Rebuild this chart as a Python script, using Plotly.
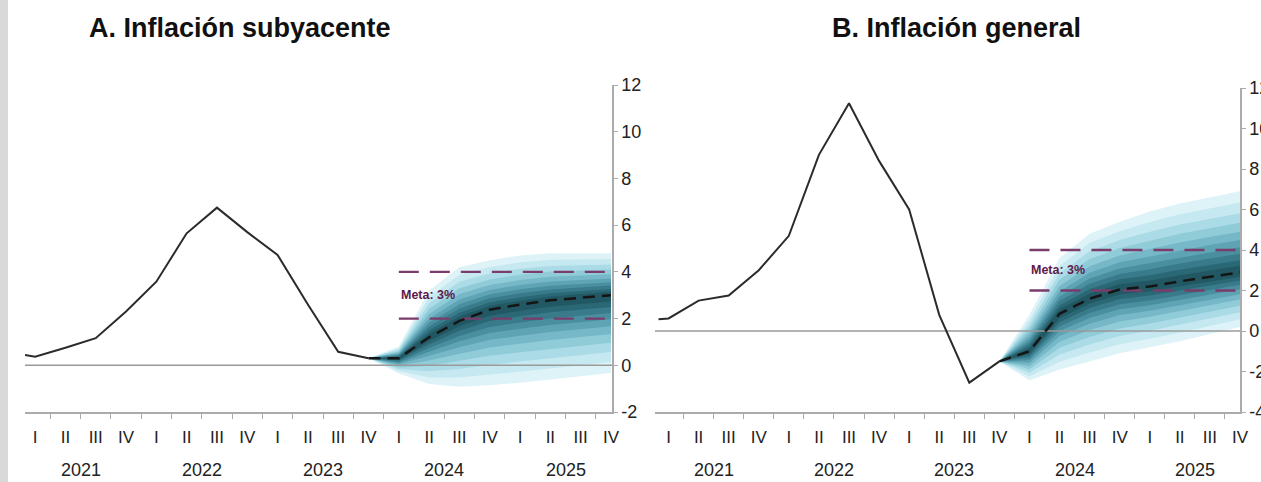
import plotly.graph_objects as go

# ---------------- data ----------------
QUARTER_LABELS = ["I", "II", "III", "IV"] * 5
YEARS = ["2021", "2022", "2023", "2024", "2025"]
Y_TICKS_A = [-2, 0, 2, 4, 6, 8, 10, 12]
Y_TICKS_B = [-4, -2, 0, 2, 4, 6, 8, 10, 12]

# Panel A: Inflación subyacente (month index, Jan-2021 = 0)
HIST_A_M = [0, 1, 4, 7, 10, 13, 16, 19, 22, 25, 28, 31, 34]
HIST_A_V = [0.44, 0.37, 0.75, 1.16, 2.3, 3.58, 5.65, 6.75, 5.7, 4.72, 2.6, 0.58, 0.3]
FC_A_M = [34, 37, 40, 43, 46, 49, 52, 55, 58]
FC_A_MED = [0.3, 0.3, 1.2, 1.9, 2.38, 2.6, 2.78, 2.9, 3.0]
FC_A_UP = [0.3, 0.8, 3.2, 4.2, 4.5, 4.7, 4.8, 4.8, 4.8]
FC_A_LO = [0.3, -0.35, -0.8, -0.92, -0.85, -0.75, -0.62, -0.48, -0.33]

# Panel B: Inflación general
HIST_B_M = [0, 1, 4, 7, 10, 13, 16, 19, 22, 25, 28, 31, 34]
HIST_B_V = [0.58, 0.62, 1.5, 1.75, 3.0, 4.7, 8.7, 11.25, 8.4, 6.0, 0.8, -2.55, -1.5]
FC_B_M = [34, 37, 40, 43, 46, 49, 52, 55, 58]
FC_B_MED = [-1.5, -1.0, 0.85, 1.6, 2.05, 2.2, 2.45, 2.68, 2.9]
FC_B_UP = [-1.5, 0.8, 3.6, 4.8, 5.4, 5.9, 6.3, 6.6, 6.9]
FC_B_LO = [-1.5, -2.45, -1.9, -1.5, -1.1, -0.8, -0.5, -0.15, 0.2]

TARGET_LOW, TARGET_HIGH, TARGET_START = 2, 4, 37

# ---------------- style ----------------
W, H = 1261, 482
ML, MR, MT, MB = 0, 0, 85, 70
PW, PH = W - ML - MR, H - MT - MB
FAN_LEVELS = [1.0, 0.86, 0.73, 0.61, 0.5, 0.4, 0.31, 0.23, 0.15, 0.08]
FAN_COLORS = ['#def3f8', '#c6e9f1', '#abdbe6', '#90cbd8', '#76b8c7',
              '#5ea4b4', '#4a8fa0', '#397b8b', '#2b6876', '#215863']
FONT = "Liberation Sans, Arial, sans-serif"
AXIS_GREY = "#ababab"
TARGET_COLOR = "#7a3d6b"

fig = go.Figure()

panels = [
    dict(xa="x", ya="y", hm=HIST_A_M, hv=HIST_A_V, fm=FC_A_M, med=FC_A_MED,
         up=FC_A_UP, lo=FC_A_LO, xr=[0, 58.1], yr=[-2, 12], yt=Y_TICKS_A,
         dom_px=(25, 612), ytop_px=85, title="A. Inflación subyacente", title_px=240),
    dict(xa="x2", ya="y2", hm=HIST_B_M, hv=HIST_B_V, fm=FC_B_M, med=FC_B_MED,
         up=FC_B_UP, lo=FC_B_LO, xr=[-0.35, 58.0], yr=[-4, 12], yt=Y_TICKS_B,
         dom_px=(655, 1240), ytop_px=88, title="B. Inflación general", title_px=956),
]

annotations = []
for p in panels:
    xa, ya = p["xa"], p["ya"]
    # fan bands
    for lev, col in zip(FAN_LEVELS, FAN_COLORS):
        upper = [m + (u - m) * lev for m, u in zip(p["med"], p["up"])]
        lower = [m + (l - m) * lev for m, l in zip(p["med"], p["lo"])]
        fig.add_trace(go.Scatter(
            x=p["fm"] + p["fm"][::-1], y=upper + lower[::-1],
            fill="toself", fillcolor=col, line=dict(width=0),
            mode="lines", hoverinfo="skip", showlegend=False, xaxis=xa, yaxis=ya))
    # zero line
    fig.add_trace(go.Scatter(x=p["xr"], y=[0, 0], mode="lines",
                             line=dict(color="#9a9a9a", width=1.5),
                             showlegend=False, hoverinfo="skip", xaxis=xa, yaxis=ya))
    # target band lines
    for lvl in (TARGET_HIGH, TARGET_LOW):
        fig.add_trace(go.Scatter(x=[TARGET_START, p["xr"][1]], y=[lvl, lvl], mode="lines",
                                 line=dict(color=TARGET_COLOR, width=2.3, dash="20px,11px"),
                                 showlegend=False, hoverinfo="skip", xaxis=xa, yaxis=ya))
    # history
    fig.add_trace(go.Scatter(x=p["hm"], y=p["hv"], mode="lines",
                             line=dict(color="#2b2b2b", width=2),
                             showlegend=False, xaxis=xa, yaxis=ya))
    # forecast median
    fig.add_trace(go.Scatter(x=p["fm"], y=p["med"], mode="lines",
                             line=dict(color="#151515", width=2.5, dash="12px,7px"),
                             showlegend=False, xaxis=xa, yaxis=ya))
    annotations.append(dict(x=TARGET_START, y=(TARGET_LOW + TARGET_HIGH) / 2, xref=xa, yref=ya,
                            text="<b>Meta: 3%</b>", showarrow=False, xanchor="left",
                            yanchor="middle", font=dict(family=FONT, size=12.5, color="#5e1a4a")))
    # titles
    annotations.append(dict(x=p["title_px"] / PW, y=(MT + PH - 28) / PH, xref="paper", yref="paper",
                            text="<b>" + p["title"] + "</b>", showarrow=False,
                            xanchor="center", yanchor="middle",
                            font=dict(family=FONT, size=27, color="#111")))
    # year labels
    for i, yr in enumerate(YEARS):
        annotations.append(dict(x=12 * i + 5.5, y=(MT + PH - 470) / PH, xref=xa, yref="paper",
                                text=yr, showarrow=False, xanchor="center", yanchor="middle",
                                font=dict(family=FONT, size=18, color="#222")))

axis_common = dict(showgrid=False, zeroline=False, automargin=False)
for i, p in enumerate(panels):
    sfx = "" if i == 0 else "2"
    dom = [(p["dom_px"][0] - ML) / PW, (p["dom_px"][1] - ML) / PW]
    fig.layout["xaxis" + sfx] = dict(
        axis_common, domain=dom, range=p["xr"], anchor="y" + sfx,
        tickmode="array", tickvals=[3 * k + 1 for k in range(20)], ticktext=QUARTER_LABELS,
        ticks="", showline=True, linecolor=AXIS_GREY, linewidth=1.5,
        ticklabelstandoff=9,
        tickfont=dict(family=FONT, size=17, color="#222"),
        minor=dict(tickmode="linear", tick0=-0.5, dtick=3, ticks="outside",
                   ticklen=5, tickcolor=AXIS_GREY, tickwidth=1),
    )
    ydom_top = (MT + PH - p["ytop_px"]) / PH
    fig.layout["yaxis" + sfx] = dict(
        axis_common, domain=[0, min(ydom_top, 1)], range=p["yr"], anchor="x" + sfx,
        side="right", tickmode="array", tickvals=p["yt"], ticktext=[str(v) for v in p["yt"]],
        ticks="outside", ticklen=4, tickcolor=AXIS_GREY,
        showline=True, linecolor=AXIS_GREY, linewidth=1.5,
        tickfont=dict(family=FONT, size=18, color="#222"),
    )

shapes = [dict(type="rect", xref="paper", yref="paper", x0=0, x1=8 / PW,
               y0=-MB / PH, y1=(PH + MT) / PH, fillcolor="#d9d9d9", line=dict(width=0),
               layer="below")]

fig.update_layout(width=W, height=H, margin=dict(l=ML, r=MR, t=MT, b=MB, autoexpand=False),
                  paper_bgcolor="white", plot_bgcolor="white",
                  annotations=annotations, shapes=shapes, showlegend=False,
                  font=dict(family=FONT), autosize=False)

fig.write_html("out.html",
               config={"responsive": False, "displayModeBar": False},
               post_script="document.body.style.margin='0';document.body.style.overflow='hidden';")
